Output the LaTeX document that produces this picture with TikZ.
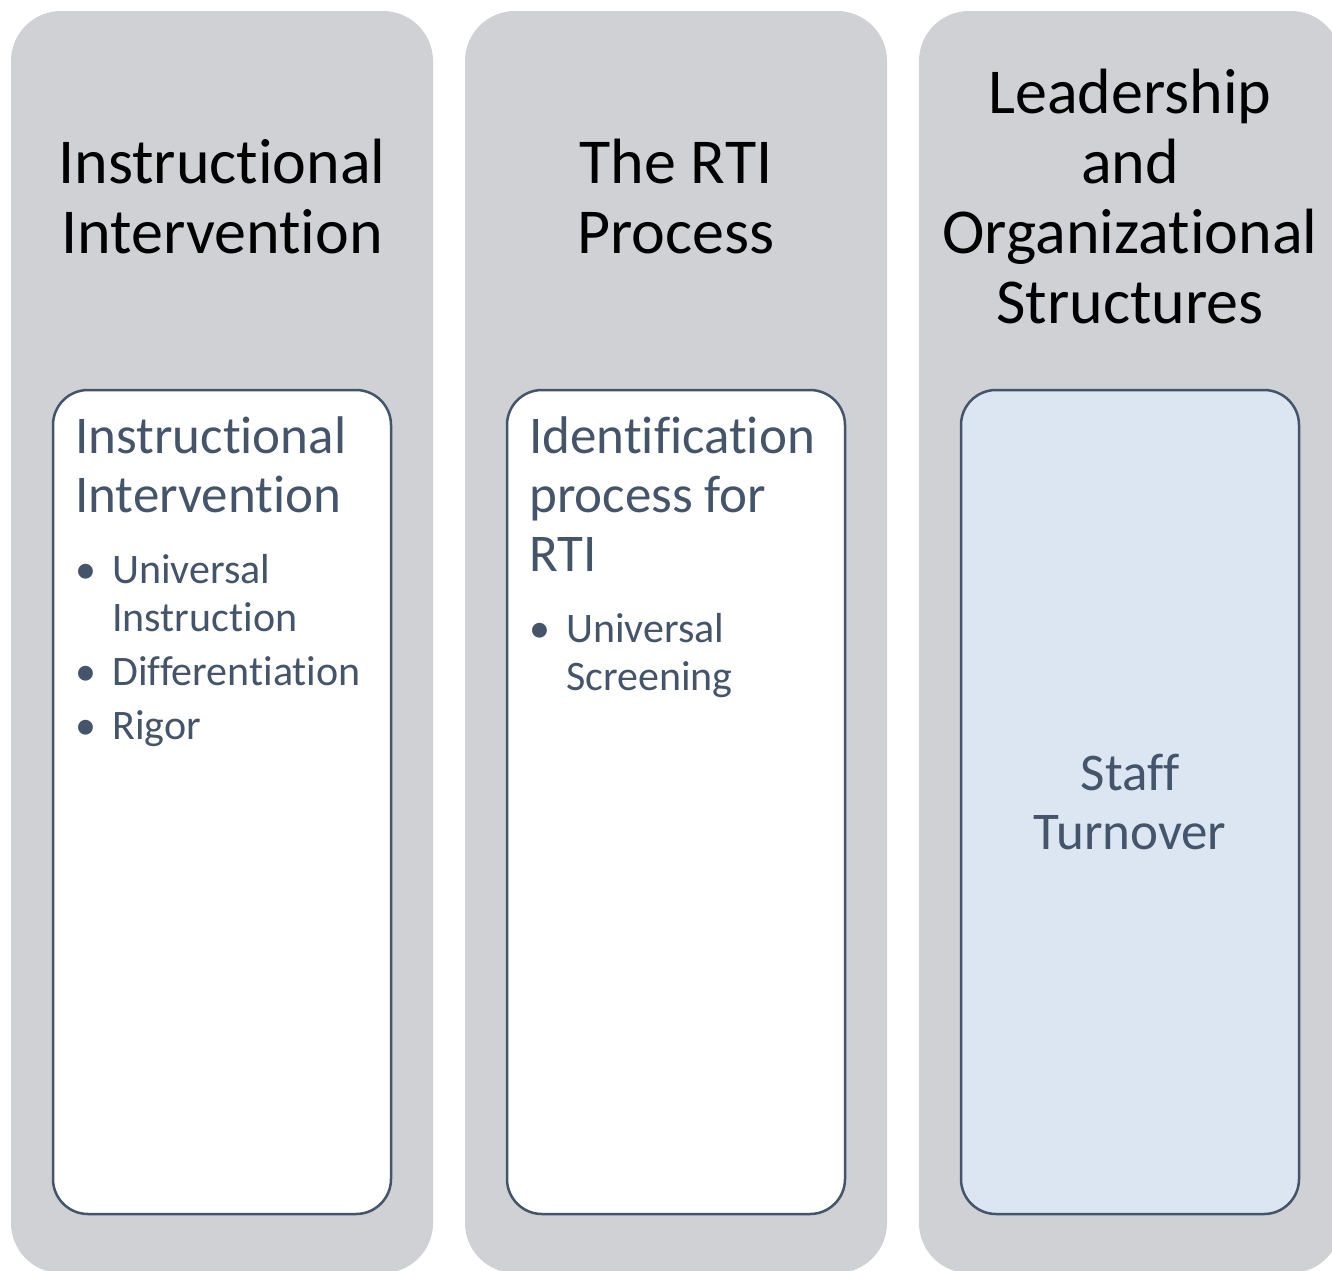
\documentclass[tikz,border=0pt]{standalone}
\usepackage{fontspec}
\setmainfont[Ligatures=NoCommon]{Carlito}
\usepackage{enumitem}
\definecolor{colgray}{HTML}{D0D1D5}
\definecolor{slate}{HTML}{44546A}
\definecolor{paleblue}{HTML}{DCE6F2}
\setlist[itemize]{leftmargin=37pt, labelwidth=37pt, labelsep=0pt, align=left,
  label=\textbullet, topsep=23pt, partopsep=0pt, itemsep=6pt, parsep=0pt}

\begin{document}
\begin{tikzpicture}[x=1pt,y=-1pt,
    column/.style={fill=colgray, rounded corners=50pt},
    card/.style={draw=slate, line width=2.5pt, rounded corners=35pt},
    title/.style={align=flush center, inner sep=0pt, font=\fontsize{64}{70}\selectfont},
    heading/.style={text=slate, text width=310pt, align=flush left, inner sep=0pt,
      anchor=north west, font=\fontsize{53}{59}\selectfont},
    boxtext/.style={text=slate, align=flush center, inner sep=0pt,
      font=\fontsize{53}{59}\selectfont}
  ]
    \useasboundingbox (0,0) rectangle (1332,1270);
    \clip (0,0) rectangle (1332,1270);
    \fill[white] (0,0) rectangle (1332,1270);

    % Columns with their cards
    \foreach \i/\f in {0/white, 1/white, 2/paleblue} {
        \fill[column] ({11+454*\i},11) rectangle ++(422,1262);
        \draw[card, fill=\f] ({53+454*\i},390) rectangle ++(338,824);
    }

    % Column titles
    \node[title] (title1) at (222,197) {Instructional\\Intervention};
    \node[title] (title2) at (676,197) {The RTI\\Process};
    \node[title] (title3) at (1130,197) {Leadership\\and\\Organizational\\Structures};

    % Card contents
    \node[heading] (card1) at (75,416) {Instructional\\Intervention\par
        \fontsize{42}{48}\selectfont
        \begin{itemize}
            \item Universal\\Instruction
            \item Differentiation
            \item Rigor
        \end{itemize}};
    \node[heading] (card2) at (529,416) {Identification\\process for\\RTI\par
        \fontsize{42}{48}\selectfont
        \begin{itemize}
            \item Universal\\Screening
        \end{itemize}};
    \node[boxtext] (card3) at (1130,802) {Staff\\Turnover};
\end{tikzpicture}
\end{document}
